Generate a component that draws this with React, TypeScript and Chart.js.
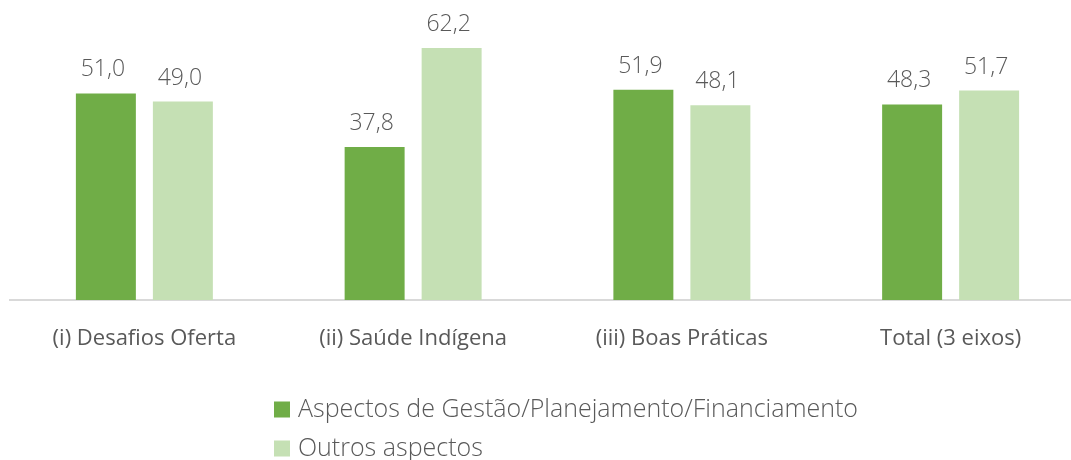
import React, { useEffect, useRef } from "react";
import { Chart, registerables } from "chart.js";

Chart.register(...registerables);

const categories = ["(i) Desafios Oferta", "(ii) Saúde Indígena", "(iii) Boas Práticas", "Total (3 eixos)"];
const gestaoValues = [51.0, 37.8, 51.9, 48.3];
const outrosValues = [49.0, 62.2, 48.1, 51.7];
const seriesLabels = ["Aspectos de Gestão/Planejamento/Financiamento", "Outros aspectos"];
const seriesColors = ["#70AD47", "#C5E0B4"];

const FONT = "'Open Sans', 'Noto Sans', sans-serif";
const TEXT = "#595959";

const dataLabelPlugin = {
  id: "dataLabels",
  afterDatasetsDraw(chart: any) {
    const ctx = chart.ctx;
    ctx.save();
    ctx.font = `300 23px ${FONT}`;
    ctx.fillStyle = TEXT;
    ctx.textAlign = "center";
    ctx.textBaseline = "alphabetic";
    chart.data.datasets.forEach((ds: any, i: number) => {
      const meta = chart.getDatasetMeta(i);
      meta.data.forEach((bar: any, j: number) => {
        const v = ds.data[j] as number;
        ctx.fillText(v.toFixed(1).replace(".", ","), bar.x - 3, bar.y - 17);
      });
    });
    ctx.restore();
  },
};

const legendPlugin = {
  id: "customLegend",
  afterDraw(chart: any) {
    const ctx = chart.ctx;
    ctx.save();
    ctx.font = `300 25px ${FONT}`;
    ctx.textBaseline = "middle";
    ctx.textAlign = "left";
    const x0 = 274;
    const rows = [409.5, 448.5];
    chart.data.datasets.forEach((ds: any, i: number) => {
      const y = rows[i];
      ctx.fillStyle = ds.backgroundColor;
      ctx.fillRect(x0, y - 8, 16, 16);
      ctx.fillStyle = TEXT;
      ctx.fillText(ds.label, x0 + 24, y);
    });
    ctx.restore();
  },
};

export default function App() {
  const ref = useRef<HTMLCanvasElement>(null);
  useEffect(() => {
    document.body.style.margin = "0";
    document.body.style.overflow = "hidden";
    const chart = new Chart(ref.current!, {
      type: "bar",
      data: {
        labels: categories,
        datasets: [
          { label: seriesLabels[0], data: gestaoValues, backgroundColor: seriesColors[0] },
          { label: seriesLabels[1], data: outrosValues, backgroundColor: seriesColors[1] },
        ],
      },
      options: {
        animation: false,
        responsive: false,
        layout: { padding: { top: 16.5, left: 10, right: 5, bottom: 110 } },
        datasets: { bar: { categoryPercentage: 0.573, barPercentage: 0.779 } },
        plugins: { legend: { display: false }, tooltip: { enabled: false } },
        scales: {
          x: {
            grid: { display: false },
            border: { display: true, color: "#D9D9D9", width: 2 },
            ticks: { color: TEXT, font: { family: FONT, size: 22, weight: 400 as any }, padding: 18, maxRotation: 0 },
            afterFit: (scale: any) => { scale.height = 50; },
          },
          y: { display: false, min: 0, max: 70 },
        },
      },
      plugins: [dataLabelPlugin, legendPlugin],
    });
    return () => chart.destroy();
  }, []);
  return (
    <canvas
      ref={ref}
      width={1090}
      height={460}
      style={{ position: "absolute", left: 0, top: 0, width: 1090, height: 460 }}
    />
  );
}
